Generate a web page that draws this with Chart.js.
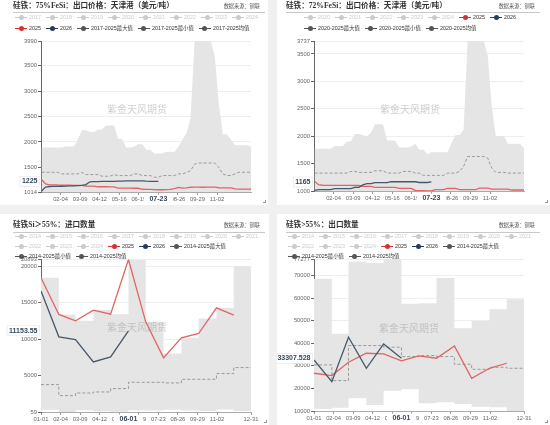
<!DOCTYPE html>
<html lang="zh">
<head>
<meta charset="UTF-8">
<title>硅铁进出口</title>
<script src="https://cdn.jsdelivr.net/npm/chart.js"></script>
<style>
  html, body { margin: 0; padding: 0; }
  body {
    width: 550px; height: 425px; position: relative; overflow: hidden;
    background: #f0f0f0;
    font-family: "Liberation Sans", "Noto Sans CJK SC", sans-serif;
  }
  .panel { position: absolute; background: #fff; overflow: hidden; }
  .panel canvas { position: absolute; left: 0; top: 0; }
  .title {
    position: absolute; white-space: nowrap; line-height: 1;
    font-family: "Liberation Serif", "Noto Sans CJK SC", serif;
    font-weight: bold; font-size: 7.6px; color: #333;
  }
  .src { position: absolute; white-space: nowrap; line-height: 1; font-size: 5.2px; color: #555; }
  .rule { position: absolute; height: 1px; background: #c8c8c8; }
  .legend { position: absolute; z-index: 2; font-size: 5.4px; white-space: nowrap; }
  .legend .row { display: flex; align-items: center; }
  .item { display: flex; align-items: center; margin-right: 5px; }
  .ic { position: relative; width: 12px; height: 5px; margin-right: 2px; }
  .ic::before { content: ""; position: absolute; left: 0; right: 0; top: 2px; height: 1px; background: currentColor; }
  .ic::after { content: ""; position: absolute; left: 3.5px; top: 0; width: 5px; height: 5px; border-radius: 50%; background: currentColor; }
  .wm { position: absolute; z-index: 1; font-size: 10px; color: rgba(150,150,150,.45); white-space: nowrap; transform: translate(-50%, -50%); }
  .corner { position: absolute; right: 2px; bottom: 2px; width: 2px; height: 2px; border-right: 1px solid #999; border-bottom: 1px solid #999; }
</style>
</head>
<body>

<!-- 75%FeSi 出口价格 -->
<div class="panel" style="left:0;top:0;width:268px;height:205px">
  <canvas id="c1" width="268" height="205"></canvas>
  <div class="title" style="left:13px;top:2px">硅铁：75%FeSi：出口价格：天津港（美元/吨）</div>
  <div class="src" style="right:8px;top:3.5px">数据来源：钢联</div>
  <div class="rule" style="left:13px;width:252px;top:12px"></div>
  <div class="legend" id="lg1" style="left:15px;top:11.5px;line-height:11px"></div>
  <div class="wm" style="left:137px;top:108px">紫金天风期货</div>
  <div class="corner"></div>
</div>

<!-- 72%FeSi 出口价格 -->
<div class="panel" style="left:277px;top:0;width:273px;height:205px">
  <canvas id="c2" width="273" height="205"></canvas>
  <div class="title" style="left:9px;top:2px">硅铁：72%FeSi：出口价格：天津港（美元/吨）</div>
  <div class="src" style="right:15px;top:3.5px">数据来源：钢联</div>
  <div class="rule" style="left:9px;width:254px;top:12px"></div>
  <div class="legend" id="lg2" style="left:27px;top:11.5px;line-height:11px"></div>
  <div class="wm" style="left:133px;top:108px">紫金天风期货</div>
  <div class="corner"></div>
</div>

<!-- 进口数量 -->
<div class="panel" style="left:0;top:214px;width:269px;height:211px">
  <canvas id="c3" width="269" height="211"></canvas>
  <div class="title" style="left:13px;top:7px">硅铁Si＞55%：进口数量</div>
  <div class="src" style="right:9px;top:8.5px">数据来源：钢联</div>
  <div class="rule" style="left:13px;width:252px;top:18px"></div>
  <div class="legend" id="lg3" style="left:15px;top:17px;line-height:10px"></div>
  <div class="wm" style="left:137px;top:112px">紫金天风期货</div>
  <div class="corner"></div>
</div>

<!-- 出口数量 -->
<div class="panel" style="left:277px;top:214px;width:273px;height:211px">
  <canvas id="c4" width="273" height="211"></canvas>
  <div class="title" style="left:9px;top:7px">硅铁&gt;55%：出口数量</div>
  <div class="src" style="right:15px;top:8.5px">数据来源：钢联</div>
  <div class="rule" style="left:9px;width:254px;top:18px"></div>
  <div class="legend" id="lg4" style="left:11px;top:17px;line-height:10px"></div>
  <div class="wm" style="left:132px;top:113px">紫金天风期货</div>
  <div class="corner"></div>
</div>

<script>
  // ---- 日期轴（闰年日序，01-01 = 0，12-31 = 365）----
  const monthStart = [0, 31, 60, 91, 121, 152, 182, 213, 244, 274, 305, 335];
  const weekDays = Array.from({ length: 53 }, (_, i) => 1 + 7 * i); // 周度：01-02 ... 12-31

  const topTickLabels = ['02-04', '03-09', '04-12', '05-16', '06-19', '07-23', '08-26', '09-29', '11-02'];
  const bottomTickLabels = ['01-01', '02-04', '03-09', '04-12', '05-16', '06-19', '07-23', '08-26', '09-29', '11-02', '12-31'];

  // ---- 硅铁 75%FeSi 出口价格（美元/吨），周度 ----
  const fesi75Max = [1890, 1890, 1890, 1890, 1890, 1890, 1910, 1910, 1910, 2050, 2230, 2230, 2195, 2195, 2245, 2245, 2325, 2325, 2325, 2065,
    2065, 1890, 1890, 1910, 1955, 1955, 1845, 1845, 1775, 1775, 1775, 1805, 1805, 1805, 1910, 2050, 2170, 2475, 3990, 3990,
    3990, 3990, 3990, 3700, 2765, 2150, 2150, 2050, 1935, 1935, 1935, 1935, 1910];
  const fesi75Min = [1014, 1014, 1014, 1014, 1014, 1014, 1014, 1014, 1014, 1014, 1014, 1014, 1014, 1014, 1014, 1014, 1014, 1014, 1014, 1014,
    1014, 1014, 1014, 1014, 1014, 1014, 1014, 1014, 1014, 1014, 1014, 1014, 1014, 1014, 1014, 1014, 1014, 1014, 1014, 1014,
    1014, 1014, 1014, 1014, 1014, 1014, 1014, 1014, 1014, 1014, 1014, 1014, 1014];
  const fesi75Avg = [1403, 1403, 1403, 1403, 1403, 1370, 1370, 1370, 1370, 1370, 1400, 1357, 1357, 1357, 1357, 1325, 1325, 1325, 1357, 1338,
    1338, 1338, 1338, 1370, 1370, 1338, 1338, 1338, 1305, 1305, 1338, 1338, 1338, 1338, 1370, 1370, 1400, 1435, 1565, 1585,
    1585, 1585, 1585, 1585, 1500, 1370, 1338, 1338, 1370, 1403, 1403, 1403, 1403];
  const fesi75Y2025 = [1260, 1175, 1156, 1156, 1152, 1150, 1150, 1148, 1146, 1145, 1143, 1130, 1130, 1128, 1117, 1117, 1117, 1115, 1115, 1092,
    1090, 1090, 1090, 1088, 1088, 1068, 1065, 1065, 1062, 1058, 1058, 1062, 1065, 1080, 1104, 1092, 1095, 1108, 1110, 1110,
    1108, 1110, 1112, 1110, 1098, 1097, 1097, 1095, 1075, 1072, 1072, 1070, 1070];
  const fesi75Y2026 = [1035, 1110, 1122, 1123, 1125, 1127, 1130, 1133, 1136, 1140, 1143, 1160, 1215, 1220, 1220, 1222, 1222, 1225, 1225, 1228,
    1230, 1233, 1233, 1233, 1235, 1233, 1228, 1225, 1222, 1225];
  const fesi75YTicks = [1014, 1500, 2000, 2500, 3000, 3500, 3990];

  // ---- 硅铁 72%FeSi 出口价格（美元/吨），周度 ----
  const fesi72Max = [1769, 1769, 1769, 1769, 1769, 1823, 1823, 1823, 1902, 1902, 2041, 2041, 2023, 1993, 2065, 2217, 2217, 2217, 1920, 1920,
    1920, 1793, 1793, 1793, 1811, 1860, 1751, 1751, 1672, 1708, 1708, 1708, 1708, 1708, 1872, 2023, 2023, 2114, 3737, 3737,
    3737, 3737, 3737, 3476, 2538, 2005, 2005, 2005, 1860, 1860, 1860, 1860, 1781];
  const fesi72Min = [1000, 1000, 1000, 1000, 1000, 1000, 1000, 1000, 1000, 1000, 1000, 1000, 1000, 1000, 1000, 1000, 1000, 1000, 1000, 1000,
    1000, 1000, 1000, 1000, 1000, 1000, 1000, 1000, 1000, 1000, 1000, 1000, 1000, 1000, 1000, 1000, 1000, 1000, 1000, 1000,
    1000, 1000, 1000, 1000, 1000, 1000, 1000, 1000, 1000, 1000, 1000, 1000, 1000];
  const fesi72Avg = [1327, 1327, 1327, 1327, 1327, 1327, 1327, 1327, 1327, 1357, 1357, 1339, 1339, 1339, 1339, 1369, 1369, 1369, 1327, 1327,
    1327, 1327, 1357, 1357, 1357, 1327, 1327, 1285, 1285, 1285, 1285, 1285, 1285, 1327, 1327, 1327, 1357, 1448, 1630, 1630,
    1630, 1630, 1630, 1600, 1418, 1339, 1339, 1339, 1327, 1327, 1327, 1327, 1327];
  const fesi72Y2025 = [1175, 1115, 1105, 1104, 1103, 1103, 1103, 1102, 1102, 1101, 1100, 1100, 1085, 1085, 1085, 1067, 1067, 1067, 1067, 1067,
    1067, 1048, 1048, 1048, 1048, 1010, 1008, 1006, 1004, 1002, 1024, 1024, 1024, 1048, 1048, 1048, 1024, 1024, 1024, 1024,
    1024, 1054, 1054, 1054, 1036, 1036, 1036, 1036, 1036, 1018, 1018, 1018, 1018];
  const fesi72Y2026 = [1012, 1024, 1024, 1024, 1024, 1042, 1042, 1042, 1042, 1042, 1067, 1067, 1110, 1133, 1133, 1151, 1151, 1151, 1151, 1169,
    1169, 1169, 1169, 1169, 1169, 1169, 1155, 1155, 1155, 1165];
  const fesi72YTicks = [1000, 1500, 2000, 2500, 3000, 3500, 3737];

  // ---- 硅铁 Si>55% 进口数量，月度 ----
  const importMax = [18403, 13384, 12517, 13977, 13429, 20893, 12380, 8042, 10190, 12836, 14296, 20000];
  const importMin = [350, 59, 300, 150, 100, 300, 250, 350, 250, 200, 400, 200];
  const importAvg = [3801, 2295, 2660, 2797, 3254, 4120, 4120, 4030, 4530, 4530, 5307, 6128];
  const importY2025 = [18403, 13384, 12517, 13977, 13429, 20893, 12380, 7452, 10190, 10783, 14296, 13292];
  const importY2026 = [16578, 10326, 9961, 6904, 7588, 11153.55];
  const importYTicks = [59, 5000, 10000, 15000, 20000, 20893];

  // ---- 硅铁 >55% 出口数量，月度 ----
  const exportMax = [68522, 44140, 76200, 75470, 77277, 57440, 57735, 68818, 46650, 49900, 55075, 59510];
  const exportMin = [10887, 11478, 15616, 12660, 19015, 19607, 13400, 13844, 13105, 11920, 11625, 10000];
  const exportAvg = [30396, 23450, 38967, 38967, 38228, 34090, 34533, 34090, 30690, 28474, 29360, 28920];
  const exportY2025 = [26700, 25667, 31580, 35568, 35273, 32170, 34385, 33350, 38820, 24485, 28920, 31135];
  const exportY2026 = [32610, 23005, 42660, 28920, 39705, 33307.528];
  const exportYTicks = [10000, 20000, 30000, 40000, 50000, 60000, 70000, 77277];

  // ---- 样式 ----
  const AREA = '#e5e5e5';
  const RED = '#e06464';
  const BLUE = '#46586b';
  const AVG = '#9a9a9a';
  const GRAY = '#cccccc';

  Chart.defaults.font.family = '"Liberation Sans", "Noto Sans CJK SC", sans-serif';
  Chart.defaults.font.size = 5.8;
  Chart.defaults.color = '#666';

  const pad2 = n => (n < 10 ? '0' : '') + n;
  function dayLabel(d) {
    let m = 11;
    while (monthStart[m] > d) m--;
    return pad2(m + 1) + '-' + pad2(d - monthStart[m] + 1);
  }
  function dayOf(s) {
    const [m, d] = s.split('-').map(Number);
    return monthStart[m - 1] + d - 1;
  }
  const pts = (days, vals) => vals.map((v, i) => ({ x: days[i], y: v }));
  // 月度阶梯：最后一个月延伸到 12-31
  const stepPts = vals => pts(monthStart, vals).concat([{ x: 365, y: vals[vals.length - 1] }]);

  // 坐标轴指示器标签（横轴日期 + 纵轴当前值）
  const pointerPlugin = {
    id: 'pointer',
    afterDraw(chart, args, opts) {
      const { ctx, chartArea } = chart;
      const x = chart.scales.x, y = chart.scales.y;
      ctx.save();
      ctx.font = 'bold 7px "Liberation Sans", sans-serif';
      ctx.textBaseline = 'middle';

      const px = x.getPixelForValue(opts.day);
      const xt = dayLabel(opts.day);
      let w = ctx.measureText(xt).width + 11;
      const ly = chartArea.bottom + 7.5;
      ctx.fillStyle = '#fff';
      ctx.fillRect(px - w / 2, ly - 5, w, 10);
      ctx.fillStyle = '#34475a';
      ctx.textAlign = 'center';
      ctx.fillText(xt, px, ly);

      const py = y.getPixelForValue(opts.value);
      const yt = String(opts.value);
      w = ctx.measureText(yt).width + 4;
      ctx.fillStyle = '#fff';
      ctx.strokeStyle = '#e4e4e4';
      ctx.lineWidth = 0.6;
      ctx.fillRect(chartArea.left - 1.5 - w, py - 5, w, 10);
      ctx.strokeRect(chartArea.left - 1.5 - w, py - 5, w, 10);
      ctx.fillStyle = '#34475a';
      ctx.textAlign = 'right';
      ctx.fillText(yt, chartArea.left - 3.5, py);
      ctx.restore();
    }
  };

  function makeChart(id, cfg) {
    const cv = document.getElementById(id);
    const W = cv.width, H = cv.height, a = cfg.area;
    const yTicks = cfg.yTicks;
    return new Chart(cv, {
      type: 'line',
      data: { datasets: cfg.datasets },
      options: {
        responsive: false,
        animation: false,
        events: [],
        layout: { padding: { left: 0, top: a.t, right: W - a.r, bottom: 0 } },
        elements: { point: { radius: 0 }, line: { borderWidth: 1.3 } },
        plugins: { legend: { display: false }, tooltip: { enabled: false }, pointer: cfg.pointer },
        scales: {
          x: {
            type: 'linear', min: 0, max: 365,
            afterFit: s => { s.height = H - a.b; },
            afterBuildTicks: s => { s.ticks = cfg.xTicks.map(t => ({ value: dayOf(t) })); },
            ticks: { callback: v => dayLabel(v), padding: 1, maxRotation: 0, autoSkip: false, color: '#666' },
            grid: { drawOnChartArea: false, tickLength: 3, tickColor: '#999' },
            border: { color: '#aaa' }
          },
          y: {
            min: yTicks[0], max: yTicks[yTicks.length - 1],
            afterFit: s => { s.width = a.l; },
            afterBuildTicks: s => { s.ticks = yTicks.map(v => ({ value: v })); },
            ticks: { callback: v => String(v), padding: 1, autoSkip: false, color: '#666' },
            grid: { color: '#eeeeee', tickColor: '#666', tickLength: 3 },
            border: { color: '#666' }
          }
        }
      },
      plugins: [pointerPlugin]
    });
  }

  function bandSets(days, maxV, minV, avgV, y25, y26, stepped) {
    const P = stepped ? stepPts : v => pts(days, v);
    return [
      { label: 'max', data: P(maxV), stepped: stepped ? 'before' : false, fill: 'start',
        backgroundColor: AREA, borderColor: 'rgba(0,0,0,0)', borderWidth: 0, order: 5 },
      { label: 'min', data: P(minV), stepped: stepped ? 'before' : false, fill: 'start',
        backgroundColor: '#ffffff', borderColor: 'rgba(0,0,0,0)', borderWidth: 0, order: 4 },
      { label: 'avg', data: P(avgV), stepped: stepped ? 'before' : false, fill: false,
        borderColor: AVG, borderWidth: 1, borderDash: [3, 2], order: 3 },
      { label: '2025', data: pts(days, y25), fill: false, borderColor: RED, order: 2 },
      { label: '2026', data: pts(days, y26), fill: false, borderColor: BLUE, order: 1 }
    ];
  }

  makeChart('c1', {
    area: { l: 41, t: 41, r: 251, b: 192 },
    xTicks: topTickLabels, yTicks: fesi75YTicks,
    pointer: { day: dayOf('07-23'), value: 1225 },
    datasets: bandSets(weekDays, fesi75Max, fesi75Min, fesi75Avg, fesi75Y2025, fesi75Y2026, false)
  });
  makeChart('c2', {
    area: { l: 37, t: 41, r: 247, b: 191 },
    xTicks: topTickLabels, yTicks: fesi72YTicks,
    pointer: { day: dayOf('07-23'), value: 1165 },
    datasets: bandSets(weekDays, fesi72Max, fesi72Min, fesi72Avg, fesi72Y2025, fesi72Y2026, false)
  });
  makeChart('c3', {
    area: { l: 41, t: 45.5, r: 251, b: 198 },
    xTicks: bottomTickLabels, yTicks: importYTicks,
    pointer: { day: dayOf('06-01'), value: 11153.55 },
    datasets: bandSets(monthStart, importMax, importMin, importAvg, importY2025, importY2026, true)
  });
  makeChart('c4', {
    area: { l: 37, t: 45, r: 247, b: 197 },
    xTicks: bottomTickLabels, yTicks: exportYTicks,
    pointer: { day: dayOf('06-01'), value: 33307.528 },
    datasets: bandSets(monthStart, exportMax, exportMin, exportAvg, exportY2025, exportY2026, true)
  });

  // ---- 图例（灰色为未选中年份）----
  const DARK = '#555';
  function legend(id, rows) {
    document.getElementById(id).innerHTML = rows.map(r =>
      '<div class="row">' + r.map(([name, color]) =>
        '<span class="item" style="color:' + (color || GRAY) + '"><i class="ic"></i>' +
        '<span style="color:' + (color ? '#333' : GRAY) + '">' + name + '</span></span>'
      ).join('') + '</div>'
    ).join('');
  }
  const off = names => names.map(n => [n, null]);

  legend('lg1', [
    off(['2017', '2018', '2019', '2020', '2021', '2022', '2023', '2024']),
    [['2025', '#d6312e'], ['2026', '#233e5a'], ['2017-2025最大值', DARK], ['2017-2025最小值', DARK], ['2017-2025均值', DARK]]
  ]);
  legend('lg2', [
    off(['2020', '2021', '2022', '2023', '2024']).concat([['2025', '#d6312e'], ['2026', '#233e5a']]),
    [['2020-2025最大值', DARK], ['2020-2025最小值', DARK], ['2020-2025均值', DARK]]
  ]);
  const qtyRows = [
    off(['2014', '2015', '2016', '2017', '2018', '2019', '2020', '2021']),
    off(['2022', '2023', '2024']).concat([['2025', '#d6312e'], ['2026', '#233e5a'], ['2014-2025最大值', DARK]]),
    [['2014-2025最小值', DARK], ['2014-2025均值', DARK]]
  ];
  legend('lg3', qtyRows);
  legend('lg4', qtyRows);
</script>
</body>
</html>
